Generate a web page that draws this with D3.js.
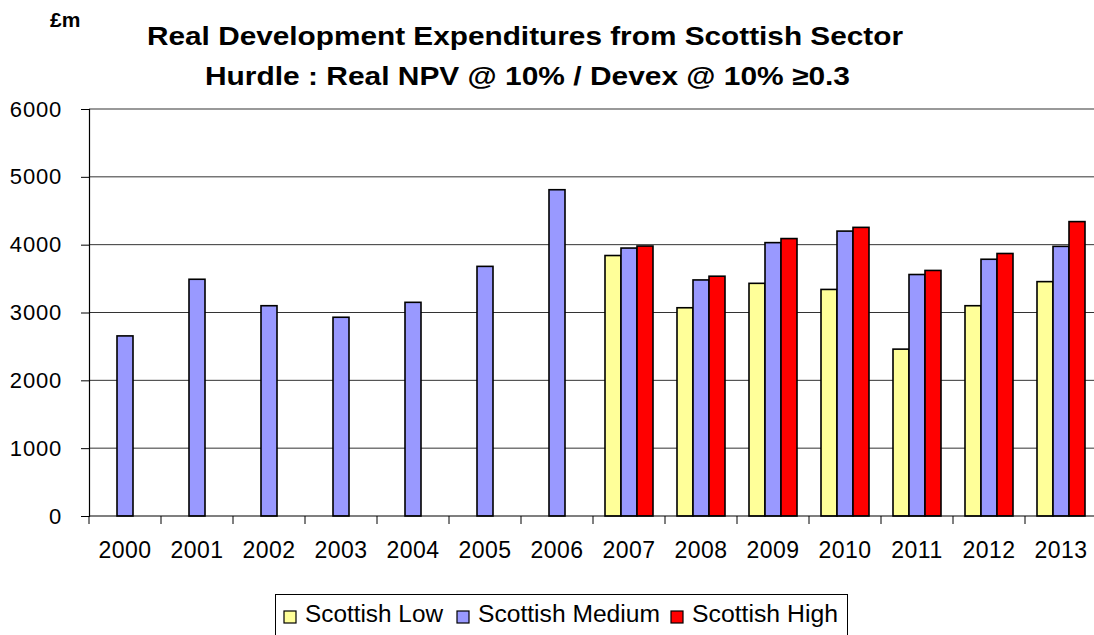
<!DOCTYPE html>
<html><head><meta charset="utf-8">
<script src="https://cdn.jsdelivr.net/npm/d3@7"></script>
<style>body{margin:0;background:#fff}svg{display:block;font-family:Arial,"Liberation Sans",sans-serif}</style>
</head><body><svg id="c" width="1094" height="635"></svg>
<script>
const years = ["2000","2001","2002","2003","2004","2005","2006","2007","2008","2009","2010","2011","2012","2013"];
const seriesNames = ["Scottish Low","Scottish Medium","Scottish High"];
const low    = [null,null,null,null,null,null,null,3840,3070,3430,3340,2460,3100,3455];
const medium = [2655,3490,3100,2930,3150,3680,4810,3950,3480,4030,4200,3560,3785,3975];
const high   = [null,null,null,null,null,null,null,3980,3535,4090,4255,3620,3870,4340];
const yTicks = [0,1000,2000,3000,4000,5000,6000];
const colors = ["#FFFF99","#9999FF","#FF0000"];
const titleLines = ["Real Development Expenditures from Scottish Sector","Hurdle : Real NPV @ 10% / Devex @ 10% \u22650.3"];
const unitLabel = "\u00A3m";

const svg = d3.select("#c");
const L = 89, R = 1097, T = 109, B = 516;
const x = d3.scaleBand().domain(years).range([L, R]).paddingInner(0).paddingOuter(0);
const y = d3.scaleLinear().domain([0, 6000]).range([B, T]);
const bw = x.bandwidth() / 4.5;
const xs = d3.scaleBand().domain(seriesNames).range([0, 3 * bw]);

// gridlines
svg.append("g").selectAll("line").data(yTicks.filter(d => d > 0)).join("line")
  .attr("x1", L).attr("x2", R).attr("y1", d => y(d)).attr("y2", d => y(d))
  .attr("stroke", d => d === 6000 ? "#777" : "#333").attr("stroke-width", d => d === 6000 ? 1.5 : 1);

// bars
const data = [low, medium, high];
const gBars = svg.append("g");
data.forEach((arr, si) => {
  gBars.append("g").selectAll("rect")
    .data(years.map((yr, i) => ({yr, v: arr[i]})).filter(d => d.v != null))
    .join("rect")
    .attr("x", d => x(d.yr) + (x.bandwidth() - 3 * bw) / 2 + xs(seriesNames[si]))
    .attr("y", d => y(d.v))
    .attr("width", bw)
    .attr("height", d => B - y(d.v))
    .attr("fill", colors[si])
    .attr("stroke", "#000").attr("stroke-width", 1.6);
});

// y axis
const yAxis = d3.axisLeft(y).tickValues(yTicks).tickSize(8).tickPadding(19).tickFormat(d3.format("d"));
const gy = svg.append("g").attr("transform", `translate(${L},0)`).call(yAxis);
gy.select(".domain").attr("stroke", "#000").attr("stroke-width", 1.2);
gy.selectAll(".tick line").attr("stroke", "#000");
gy.selectAll("text").attr("font-size", 22).attr("fill", "#000").attr("font-family", "Arial, 'Liberation Sans', sans-serif").attr("letter-spacing", 0.8);

// x axis
const xAxis = d3.axisBottom(x).tickSize(0).tickPadding(0);
const gx = svg.append("g").attr("transform", `translate(0,${B})`).call(xAxis);
gx.select(".domain").remove();
gx.selectAll("text").attr("font-size", 23).attr("fill", "#000").attr("dy", 0).attr("y", 42)
  .attr("font-family", "Arial, 'Liberation Sans', sans-serif").attr("letter-spacing", 0.5);
svg.append("line").attr("x1", L).attr("x2", R).attr("y1", B).attr("y2", B).attr("stroke", "#000").attr("stroke-width", 1.2);
svg.append("g").selectAll("line").data(years.slice(1)).join("line")
  .attr("x1", d => x(d)).attr("x2", d => x(d)).attr("y1", B).attr("y2", B + 8).attr("stroke", "#000");
svg.append("line").attr("x1", L).attr("x2", L).attr("y1", B).attr("y2", B + 8).attr("stroke", "#000");

// titles
const tl = svg.append("g").attr("font-weight", "bold").attr("fill", "#000").attr("font-size", 26);
tl.append("text").attr("x", 147).attr("y", 45).text(titleLines[0])
  .attr("textLength", 756).attr("lengthAdjust", "spacingAndGlyphs");
tl.append("text").attr("x", 205).attr("y", 85).text(titleLines[1])
  .attr("textLength", 645).attr("lengthAdjust", "spacingAndGlyphs");
svg.append("text").attr("x", 50).attr("y", 27).attr("font-weight", "bold").attr("font-size", 21).text(unitLabel);

// legend
const lg = svg.append("g");
lg.append("rect").attr("x", 275.5).attr("y", 594.5).attr("width", 572).attr("height", 50)
  .attr("fill", "#fff").attr("stroke", "#000").attr("stroke-width", 1);
const legX = [284, 457, 671];
const legW = [138, 182, 146];
seriesNames.forEach((n, i) => {
  lg.append("rect").attr("x", legX[i]).attr("y", 611).attr("width", 12).attr("height", 12)
    .attr("fill", colors[i]).attr("stroke", "#000").attr("stroke-width", 1.2);
  lg.append("text").attr("x", legX[i] + 21).attr("y", 622).attr("font-size", 23).attr("fill", "#000")
    .text(n).attr("textLength", legW[i]).attr("lengthAdjust", "spacingAndGlyphs");
});
</script></body></html>
